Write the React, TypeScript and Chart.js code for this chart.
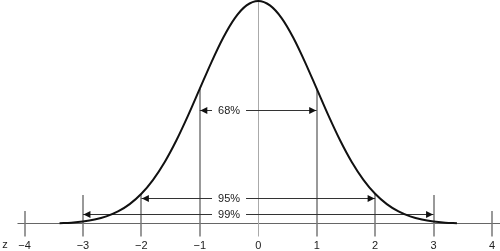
import React, { useEffect, useRef } from 'react';
import { Chart, registerables } from 'chart.js';

Chart.register(...registerables);

// Standard normal density read at z steps of 0.2
const zValues = [
  -3.4, -3.2, -3.0, -2.8, -2.6, -2.4, -2.2, -2.0, -1.8, -1.6, -1.4, -1.2,
  -1.0, -0.8, -0.6, -0.4, -0.2, 0.0, 0.2, 0.4, 0.6, 0.8, 1.0, 1.2, 1.4, 1.6,
  1.8, 2.0, 2.2, 2.4, 2.6, 2.8, 3.0, 3.2, 3.4,
];
const densityValues = [
  0.0012, 0.0024, 0.0044, 0.0079, 0.0136, 0.0224, 0.0355, 0.054, 0.079,
  0.1109, 0.1497, 0.1942, 0.242, 0.2897, 0.3332, 0.3683, 0.391, 0.3989,
  0.391, 0.3683, 0.3332, 0.2897, 0.242, 0.1942, 0.1497, 0.1109, 0.079, 0.054,
  0.0355, 0.0224, 0.0136, 0.0079, 0.0044, 0.0024, 0.0012,
];

const tickValues = [-4, -3, -2, -1, 0, 1, 2, 3, 4];
const tickLabels = ['−4', '−3', '−2', '−1', '0', '1', '2', '3', '4'];
// top of each vertical guide line (density units)
const guideTops = [0.0233, 0.052, 0.054, 0.242, 0.3989, 0.242, 0.054, 0.052, 0.0233];

const intervalLabels = ['68%', '95%', '99%'];
const intervalHalfWidths = [1, 2, 3];
const intervalLevels = [0.204, 0.0465, 0.0179];
const intervalLabelZ = -0.5;
const axisName = 'z';

const FONT = '11px "Liberation Sans", Arial, sans-serif';

const annotate = {
  id: 'annotate',
  beforeDatasetsDraw(chart: any) {
    const ctx = chart.ctx;
    const xs = chart.scales.x;
    const ys = chart.scales.y;
    const base = Math.round(ys.getPixelForValue(0)) - 0.5;
    const below = base + 13;
    ctx.save();
    // axis line
    ctx.strokeStyle = '#666';
    ctx.lineWidth = 1;
    ctx.beginPath();
    ctx.moveTo(xs.getPixelForValue(-4.12), base);
    ctx.lineTo(chart.width, base);
    ctx.stroke();
    // vertical guides
    tickValues.forEach((v, i) => {
      const x = Math.round(xs.getPixelForValue(v));
      const top = ys.getPixelForValue(guideTops[i]);
      ctx.beginPath();
      if (v === 0) {
        ctx.strokeStyle = '#aaa';
        ctx.lineWidth = 1;
        ctx.moveTo(x + 0.5, top);
      } else {
        ctx.strokeStyle = '#777';
        ctx.lineWidth = 1.5;
        ctx.moveTo(x, top);
      }
      ctx.lineTo(v === 0 ? x + 0.5 : x, below);
      ctx.stroke();
    });
    // tick labels
    ctx.fillStyle = '#222';
    ctx.font = FONT;
    ctx.textAlign = 'center';
    ctx.textBaseline = 'middle';
    tickValues.forEach((v, i) => {
      ctx.fillText(tickLabels[i], xs.getPixelForValue(v), 245.5);
    });
    ctx.fillText(axisName, 5, 245);
    // interval arrows
    const xc = xs.getPixelForValue(intervalLabelZ);
    intervalLabels.forEach((lab, i) => {
      const k = intervalHalfWidths[i];
      const y = Math.round(ys.getPixelForValue(intervalLevels[i])) + 0.5;
      const xl = xs.getPixelForValue(-k);
      const xr = xs.getPixelForValue(k);
      const w = ctx.measureText(lab).width;
      const gap = w / 2 + 6;
      ctx.strokeStyle = '#333';
      ctx.lineWidth = 1;
      ctx.beginPath();
      ctx.moveTo(xl, y);
      ctx.lineTo(xc - gap, y);
      ctx.moveTo(xc + gap, y);
      ctx.lineTo(xr, y);
      ctx.stroke();
      ctx.fillStyle = '#111';
      ctx.beginPath();
      ctx.moveTo(xl + 0.5, y);
      ctx.lineTo(xl + 7.5, y - 3.5);
      ctx.lineTo(xl + 7.5, y + 3.5);
      ctx.closePath();
      ctx.fill();
      ctx.beginPath();
      ctx.moveTo(xr - 0.5, y);
      ctx.lineTo(xr - 7.5, y - 3.5);
      ctx.lineTo(xr - 7.5, y + 3.5);
      ctx.closePath();
      ctx.fill();
      ctx.fillStyle = '#222';
      ctx.fillText(lab, xc, y + 0.5);
    });
    ctx.restore();
  },
};

export default function App() {
  const ref = useRef<HTMLCanvasElement>(null);
  useEffect(() => {
    if (!ref.current) return;
    const chart = new Chart(ref.current, {
      type: 'line',
      data: {
        datasets: [
          {
            data: zValues.map((z, i) => ({ x: z, y: densityValues[i] })),
            borderColor: '#111',
            borderWidth: 2,
            pointRadius: 0,
            cubicInterpolationMode: 'monotone',
            fill: false,
            clip: false as any,
          },
        ],
      },
      options: {
        animation: false,
        responsive: false,
        layout: { padding: { left: 24.5, right: 8, top: 1, bottom: 27 } },
        plugins: { legend: { display: false }, tooltip: { enabled: false } },
        events: [],
        scales: {
          x: { type: 'linear', min: -4, max: 4, display: false },
          y: { type: 'linear', min: 0, max: 0.3989, display: false },
        },
      },
      plugins: [annotate],
    });
    return () => chart.destroy();
  }, []);
  return (
    <div style={{ position: 'absolute', left: 0, top: 0, width: 500, height: 251, background: '#fff' }}>
      <canvas ref={ref} width={500} height={251} />
    </div>
  );
}
